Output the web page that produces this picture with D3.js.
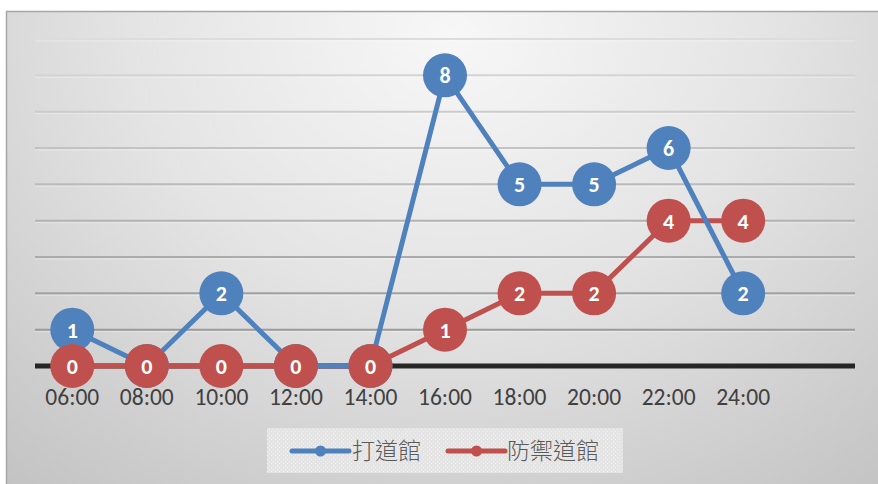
<!DOCTYPE html>
<html>
<head>
<meta charset="utf-8">
<script src="https://cdn.jsdelivr.net/npm/d3@7"></script>
<style>
  html, body { margin: 0; padding: 0; background: #ffffff; }
  svg { display: block; }
</style>
</head>
<body>
<svg id="chart" width="878" height="484"></svg>
<script>
// Gym activity by time of day
const hours = ["06:00", "08:00", "10:00", "12:00", "14:00", "16:00", "18:00", "20:00", "22:00", "24:00"];
const attackGym = [1, 0, 2, 0, 0, 8, 5, 5, 6, 2];   // 打道館
const defendGym = [0, 0, 0, 0, 0, 1, 2, 2, 4, 4];   // 防禦道館
const seriesNames = ["打道館", "防禦道館"];
const seriesColors = ["#4F81BD", "#C0504D"];
const yTicks = [1, 2, 3, 4, 5, 6, 7, 8, 9];

const svg = d3.select("#chart");
const defs = svg.append("defs");

// Panel background: soft radial light falling off toward the edges
const bg = defs.append("radialGradient")
  .attr("id", "panelBg")
  .attr("cx", "0.5").attr("cy", "0.05").attr("r", "0.8")
  .attr("gradientTransform", "translate(0.5,0.05) scale(1,1.5) translate(-0.5,-0.05)");
bg.append("stop").attr("offset", "0").attr("stop-color", "#f7f7f7");
bg.append("stop").attr("offset", "0.45").attr("stop-color", "#e4e4e4");
bg.append("stop").attr("offset", "1").attr("stop-color", "#c2c2c2");

// Dotted legend fill
const pat = defs.append("pattern")
  .attr("id", "legendDots")
  .attr("width", 4).attr("height", 4)
  .attr("patternUnits", "userSpaceOnUse");
pat.append("rect").attr("width", 4).attr("height", 4).attr("fill", "#e4e4e4");
pat.append("rect").attr("x", 1).attr("y", 1).attr("width", 1).attr("height", 1).attr("fill", "#f2f2f2");
pat.append("rect").attr("x", 3).attr("y", 3).attr("width", 1).attr("height", 1).attr("fill", "#f2f2f2");

svg.append("rect")
  .attr("x", 6.5).attr("y", 11.5)
  .attr("width", 890).attr("height", 490)
  .attr("fill", "url(#panelBg)")
  .attr("stroke", "#a6a6a6")
  .attr("stroke-width", 1.5);

const plotLeft = 35, plotRight = 855;
const step = (plotRight - plotLeft) / (hours.length + 1);

const x = d3.scaleBand()
  .domain(hours)
  .range([plotLeft, plotLeft + step * hours.length])
  .paddingInner(0).paddingOuter(0);
const cx = d => x(d) + x.bandwidth() / 2;

const y = d3.scaleLinear().domain([0, 9]).range([366, 39]);

// Horizontal gridlines, fading toward the top
const gridShade = d3.scaleLinear().domain([9, 1]).range(["#dcdcdc", "#9a9a9a"]);
const grid = svg.append("g");
grid.selectAll("line.shadow")
  .data(yTicks).join("line")
  .attr("class", "shadow")
  .attr("x1", plotLeft).attr("x2", plotRight)
  .attr("y1", d => y(d) + 2).attr("y2", d => y(d) + 2)
  .attr("stroke", "#ffffff").attr("stroke-opacity", 0.35).attr("stroke-width", 1);
grid.selectAll("line.main")
  .data(yTicks).join("line")
  .attr("class", "main")
  .attr("x1", plotLeft).attr("x2", plotRight)
  .attr("y1", d => y(d)).attr("y2", d => y(d))
  .attr("stroke", d => gridShade(d)).attr("stroke-width", 2);

// Category axis
const xAxis = svg.append("g")
  .attr("transform", `translate(0,${y(0)})`)
  .call(d3.axisBottom(x).tickSize(0).tickPadding(22));
xAxis.select(".domain").remove();
xAxis.selectAll("text")
  .attr("font-family", "Carlito, Calibri, Lato, 'Open Sans', sans-serif")
  .attr("font-size", 23.5)
  .attr("fill", "#404040");
svg.append("line")
  .attr("x1", plotLeft).attr("x2", plotRight)
  .attr("y1", y(0)).attr("y2", y(0))
  .attr("stroke", "#262626").attr("stroke-width", 5);

const line = d3.line().x((d, i) => cx(hours[i])).y(d => y(d));
const series = [attackGym, defendGym];

// Lines: red underneath, blue over it
svg.append("path").datum(defendGym)
  .attr("d", line).attr("fill", "none")
  .attr("stroke", seriesColors[1]).attr("stroke-width", 5).attr("stroke-linejoin", "round");
svg.append("path").datum(attackGym)
  .attr("d", line).attr("fill", "none")
  .attr("stroke", seriesColors[0]).attr("stroke-width", 5).attr("stroke-linejoin", "round");

// Markers with value labels
series.forEach((vals, s) => {
  const g = svg.append("g");
  g.selectAll("circle")
    .data(vals).join("circle")
    .attr("cx", (d, i) => cx(hours[i]))
    .attr("cy", d => y(d))
    .attr("r", 22)
    .attr("fill", seriesColors[s]);
  g.selectAll("text")
    .data(vals).join("text")
    .attr("x", (d, i) => cx(hours[i]))
    .attr("y", d => y(d))
    .attr("dy", "0.36em")
    .attr("text-anchor", "middle")
    .attr("font-family", "Carlito, Calibri, Lato, 'Open Sans', sans-serif")
    .attr("font-weight", "bold")
    .attr("font-size", 22)
    .attr("fill", "#ffffff")
    .text(d => d);
});

// Legend
const legend = svg.append("g");
legend.append("rect")
  .attr("x", 267).attr("y", 428).attr("width", 356).attr("height", 45)
  .attr("fill", "url(#legendDots)");
const legendItems = [
  { name: seriesNames[0], color: seriesColors[0], x0: 292, tx: 352 },
  { name: seriesNames[1], color: seriesColors[1], x0: 448, tx: 507 }
];
legendItems.forEach(it => {
  legend.append("line")
    .attr("x1", it.x0).attr("x2", it.x0 + 57)
    .attr("y1", 451).attr("y2", 451)
    .attr("stroke", it.color).attr("stroke-width", 5).attr("stroke-linecap", "round");
  legend.append("circle")
    .attr("cx", it.x0 + 28.5).attr("cy", 451).attr("r", 5.5)
    .attr("fill", it.color);
  legend.append("text")
    .attr("x", it.tx).attr("y", 451)
    .attr("dy", "0.36em")
    .attr("font-family", "'Noto Sans CJK TC', 'Noto Sans CJK SC', sans-serif")
    .attr("font-weight", 300)
    .attr("font-size", 23)
    .attr("fill", "#595959")
    .text(it.name);
});
</script>
</body>
</html>
